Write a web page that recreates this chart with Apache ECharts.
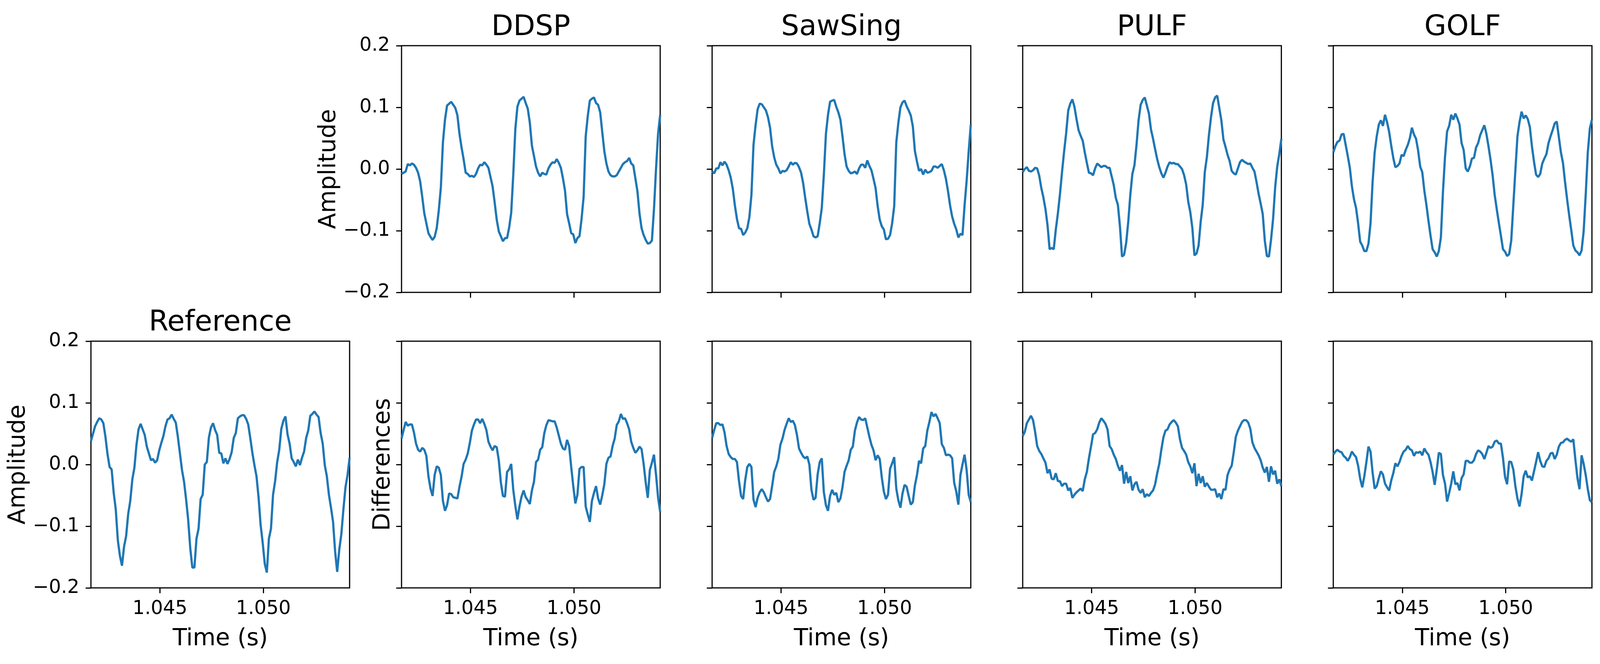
<!DOCTYPE html>
<html>
<head>
<meta charset="utf-8">
<title>Reference vs. models</title>
<script src="https://cdn.jsdelivr.net/npm/echarts@6/dist/echarts.min.js"></script>
<style>
  html, body { margin: 0; padding: 0; background: #fff; overflow: hidden; }
  #chart { width: 100vw; height: 100vh; }
</style>
</head>
<body>
<div id="chart"></div>
<script>
// time window shown (s) and spacing of the readings below
const tStart = 1.041667
const tEnd = 1.054167
const tStep = 0.0001
const xTickValues = [1.045, 1.05]

// waveforms, one value per 0.1 ms
const reference = [
  0.038, 0.050, 0.062, 0.069, 0.075, 0.073, 0.067, 0.045, 0.017, -0.004,
  -0.008, -0.046, -0.073, -0.123, -0.148, -0.164, -0.133, -0.116, -0.080, -0.059,
  -0.024, -0.005, 0.032, 0.057, 0.066, 0.057, 0.048, 0.029, 0.018, 0.007,
  0.009, 0.003, 0.007, 0.023, 0.035, 0.046, 0.062, 0.073, 0.075, 0.081,
  0.074, 0.068, 0.045, 0.018, -0.009, -0.028, -0.057, -0.090, -0.136, -0.167,
  -0.167, -0.120, -0.104, -0.056, -0.049, 0.000, 0.004, 0.044, 0.060, 0.067,
  0.056, 0.048, 0.019, 0.018, 0.002, 0.010, 0.001, 0.009, 0.020, 0.043,
  0.051, 0.075, 0.078, 0.080, 0.080, 0.074, 0.065, 0.043, 0.019, -0.001,
  -0.019, -0.053, -0.098, -0.127, -0.161, -0.175, -0.120, -0.104, -0.049, -0.027,
  0.004, 0.024, 0.058, 0.071, 0.078, 0.049, 0.034, 0.010, 0.004, -0.003,
  0.008, -0.001, 0.011, 0.021, 0.043, 0.055, 0.079, 0.082, 0.086, 0.081,
  0.077, 0.051, 0.034, -0.001, -0.019, -0.049, -0.070, -0.093, -0.141, -0.174,
  -0.138, -0.113, -0.073, -0.037, -0.017, 0.011,
]
const ddsp = [
  -0.008, -0.006, -0.004, 0.008, 0.006, 0.009, 0.007, 0.002, -0.006, -0.020,
  -0.045, -0.072, -0.088, -0.104, -0.110, -0.115, -0.110, -0.096, -0.067, -0.030,
  0.043, 0.080, 0.103, 0.106, 0.109, 0.104, 0.099, 0.087, 0.057, 0.035,
  0.016, -0.006, -0.008, -0.012, -0.011, -0.013, -0.008, 0.001, 0.007, 0.006,
  0.011, 0.007, 0.002, -0.013, -0.028, -0.054, -0.082, -0.101, -0.109, -0.117,
  -0.112, -0.112, -0.095, -0.071, -0.009, 0.065, 0.101, 0.111, 0.114, 0.117,
  0.107, 0.098, 0.075, 0.038, 0.021, 0.004, -0.006, -0.012, -0.006, -0.008,
  -0.009, 0.001, 0.007, 0.011, 0.010, 0.016, 0.010, 0.002, -0.015, -0.035,
  -0.073, -0.088, -0.104, -0.106, -0.120, -0.112, -0.109, -0.081, -0.045, 0.053,
  0.086, 0.111, 0.114, 0.116, 0.107, 0.104, 0.092, 0.060, 0.029, 0.009,
  -0.004, -0.010, -0.012, -0.012, -0.010, -0.004, 0.002, 0.008, 0.011, 0.013,
  0.018, 0.009, 0.006, -0.015, -0.036, -0.072, -0.096, -0.107, -0.115, -0.121,
  -0.120, -0.116, -0.065, 0.001, 0.058, 0.088,
]
const sawsing = [
  -0.004, -0.007, 0.001, 0.001, 0.011, 0.006, 0.012, 0.007, -0.002, -0.014,
  -0.032, -0.059, -0.081, -0.096, -0.097, -0.107, -0.103, -0.096, -0.078, -0.042,
  0.039, 0.071, 0.097, 0.106, 0.105, 0.100, 0.095, 0.084, 0.067, 0.037,
  0.019, 0.007, 0.001, -0.007, -0.003, -0.004, -0.002, 0.004, 0.011, 0.007,
  0.010, 0.009, 0.003, -0.006, -0.023, -0.047, -0.069, -0.089, -0.098, -0.109,
  -0.111, -0.109, -0.088, -0.063, -0.009, 0.057, 0.088, 0.109, 0.111, 0.112,
  0.101, 0.092, 0.080, 0.053, 0.024, 0.004, -0.003, -0.007, -0.006, -0.004,
  -0.008, 0.001, 0.007, 0.007, 0.002, 0.014, 0.005, -0.002, -0.016, -0.031,
  -0.060, -0.082, -0.093, -0.098, -0.114, -0.113, -0.107, -0.088, -0.060, 0.043,
  0.075, 0.100, 0.108, 0.111, 0.102, 0.095, 0.087, 0.069, 0.029, 0.012,
  -0.003, 0.000, -0.009, -0.001, -0.006, -0.005, -0.003, 0.004, 0.004, 0.002,
  0.005, 0.008, -0.002, -0.016, -0.036, -0.059, -0.077, -0.089, -0.098, -0.111,
  -0.105, -0.107, -0.059, -0.019, 0.029, 0.072,
]
const pulf = [
  -0.005, 0.000, 0.003, -0.003, -0.004, -0.002, 0.002, 0.001, -0.011, -0.031,
  -0.046, -0.065, -0.091, -0.130, -0.128, -0.130, -0.098, -0.072, -0.041, -0.005,
  0.028, 0.058, 0.095, 0.106, 0.113, 0.101, 0.081, 0.063, 0.054, 0.046,
  0.027, 0.010, -0.006, -0.007, -0.010, 0.001, 0.009, 0.006, 0.003, 0.005,
  0.005, 0.002, 0.002, -0.012, -0.026, -0.047, -0.058, -0.093, -0.142, -0.139,
  -0.120, -0.086, -0.042, -0.008, 0.006, 0.039, 0.079, 0.104, 0.112, 0.116,
  0.103, 0.090, 0.064, 0.049, 0.032, 0.016, 0.003, -0.007, -0.014, -0.006,
  0.004, 0.011, 0.009, 0.010, 0.008, 0.008, 0.004, 0.000, -0.010, -0.025,
  -0.053, -0.070, -0.096, -0.140, -0.137, -0.124, -0.086, -0.058, -0.005, 0.019,
  0.055, 0.084, 0.107, 0.116, 0.119, 0.099, 0.079, 0.048, 0.036, 0.023,
  0.013, -0.003, -0.007, -0.009, 0.001, 0.011, 0.015, 0.012, 0.010, 0.008,
  0.009, 0.002, -0.004, -0.021, -0.040, -0.056, -0.073, -0.116, -0.141, -0.142,
  -0.115, -0.081, -0.030, 0.004, 0.024, 0.049,
]
const golf = [
  0.027, 0.037, 0.044, 0.046, 0.056, 0.057, 0.039, 0.021, 0.002, -0.028,
  -0.049, -0.063, -0.088, -0.118, -0.124, -0.133, -0.133, -0.121, -0.088, -0.021,
  0.027, 0.053, 0.072, 0.079, 0.070, 0.088, 0.076, 0.060, 0.038, 0.018,
  0.003, 0.005, 0.009, 0.023, 0.021, 0.031, 0.039, 0.050, 0.067, 0.056,
  0.049, 0.030, 0.004, -0.005, -0.035, -0.058, -0.084, -0.108, -0.130, -0.135,
  -0.142, -0.133, -0.111, -0.037, 0.020, 0.061, 0.070, 0.088, 0.080, 0.090,
  0.082, 0.072, 0.042, 0.031, 0.001, -0.004, 0.004, 0.017, 0.018, 0.035,
  0.042, 0.055, 0.063, 0.071, 0.057, 0.037, 0.015, -0.010, -0.042, -0.065,
  -0.087, -0.108, -0.130, -0.134, -0.141, -0.138, -0.116, -0.059, -0.002, 0.053,
  0.076, 0.093, 0.082, 0.087, 0.081, 0.068, 0.037, 0.012, -0.009, -0.013,
  -0.008, 0.009, 0.017, 0.024, 0.042, 0.053, 0.063, 0.074, 0.077, 0.052,
  0.027, 0.010, -0.021, -0.049, -0.075, -0.099, -0.124, -0.132, -0.135, -0.140,
  -0.132, -0.101, -0.041, 0.027, 0.066, 0.080,
]

// differences against the reference
const ddspDiff = [
  0.042, 0.056, 0.069, 0.063, 0.065, 0.065, 0.052, 0.034, 0.024, 0.021,
  0.027, 0.024, 0.014, -0.019, -0.039, -0.051, -0.017, -0.003, -0.005, -0.017,
  -0.059, -0.075, -0.066, -0.047, -0.048, -0.053, -0.054, -0.055, -0.036, -0.020,
  0.001, 0.008, 0.018, 0.035, 0.055, 0.065, 0.073, 0.073, 0.067, 0.074,
  0.066, 0.056, 0.037, 0.029, 0.023, 0.030, 0.028, 0.007, -0.029, -0.051,
  -0.052, -0.012, -0.008, 0.001, -0.041, -0.067, -0.089, -0.068, -0.052, -0.042,
  -0.053, -0.058, -0.064, -0.042, -0.028, 0.004, 0.008, 0.024, 0.028, 0.051,
  0.064, 0.072, 0.071, 0.070, 0.070, 0.060, 0.047, 0.034, 0.026, 0.024,
  0.040, 0.030, -0.004, -0.035, -0.063, -0.049, -0.007, -0.004, -0.004, -0.068,
  -0.081, -0.093, -0.059, -0.046, -0.035, -0.055, -0.065, -0.050, -0.032, 0.001,
  0.011, 0.013, 0.030, 0.042, 0.064, 0.070, 0.082, 0.074, 0.075, 0.067,
  0.057, 0.037, 0.027, 0.019, 0.023, 0.029, 0.025, 0.001, -0.029, -0.054,
  -0.009, 0.003, 0.016, -0.017, -0.054, -0.077,
]
const sawsingDiff = [
  0.043, 0.056, 0.067, 0.067, 0.064, 0.065, 0.052, 0.030, 0.017, 0.012,
  0.009, 0.009, 0.004, -0.027, -0.051, -0.056, -0.025, -0.004, 0.001, -0.004,
  -0.057, -0.069, -0.054, -0.045, -0.040, -0.045, -0.053, -0.060, -0.056, -0.035,
  -0.012, -0.003, 0.009, 0.032, 0.042, 0.056, 0.066, 0.075, 0.069, 0.071,
  0.064, 0.048, 0.026, 0.019, 0.013, 0.010, 0.013, 0.000, -0.041, -0.057,
  -0.054, -0.016, 0.004, 0.010, -0.045, -0.066, -0.075, -0.051, -0.041, -0.049,
  -0.046, -0.061, -0.055, -0.037, -0.012, -0.002, 0.007, 0.024, 0.029, 0.055,
  0.068, 0.077, 0.073, 0.072, 0.075, 0.060, 0.045, 0.032, 0.023, 0.007,
  0.015, 0.009, -0.021, -0.044, -0.056, -0.049, -0.007, 0.002, 0.012, -0.039,
  -0.058, -0.070, -0.047, -0.033, -0.036, -0.051, -0.065, -0.061, -0.034, -0.017,
  0.006, 0.002, 0.026, 0.030, 0.055, 0.069, 0.085, 0.078, 0.082, 0.075,
  0.067, 0.033, 0.027, 0.015, 0.016, 0.015, 0.010, -0.030, -0.044, -0.065,
  -0.017, 0.000, 0.016, -0.009, -0.049, -0.061,
]
const pulfDiff = [
  0.046, 0.053, 0.067, 0.073, 0.079, 0.072, 0.053, 0.030, 0.022, 0.017,
  0.010, 0.003, -0.014, -0.008, -0.023, -0.024, -0.014, -0.027, -0.027, -0.035,
  -0.031, -0.031, -0.042, -0.038, -0.054, -0.049, -0.045, -0.042, -0.039, -0.043,
  -0.024, -0.012, 0.010, 0.029, 0.049, 0.051, 0.057, 0.068, 0.075, 0.071,
  0.066, 0.057, 0.030, 0.025, 0.016, 0.009, -0.002, -0.010, -0.001, -0.031,
  -0.012, -0.030, -0.019, -0.042, -0.032, -0.028, -0.041, -0.046, -0.040, -0.053,
  -0.048, -0.051, -0.046, -0.042, -0.032, -0.014, 0.001, 0.024, 0.044, 0.055,
  0.057, 0.065, 0.069, 0.072, 0.068, 0.062, 0.041, 0.027, 0.022, 0.016,
  0.004, -0.003, -0.014, 0.002, -0.035, -0.015, -0.030, -0.019, -0.036, -0.030,
  -0.036, -0.041, -0.041, -0.040, -0.053, -0.047, -0.056, -0.040, -0.041, -0.017,
  -0.008, -0.002, 0.020, 0.045, 0.055, 0.062, 0.069, 0.072, 0.072, 0.068,
  0.058, 0.036, 0.027, 0.021, 0.015, 0.007, -0.005, -0.013, -0.004, -0.028,
  -0.003, -0.016, -0.010, -0.031, -0.024, -0.035,
]
const golfDiff = [
  0.016, 0.021, 0.024, 0.021, 0.020, 0.014, 0.011, 0.006, 0.012, 0.021,
  0.016, 0.012, -0.002, -0.023, -0.037, -0.019, 0.004, 0.029, 0.021, -0.013,
  -0.039, -0.035, -0.022, -0.011, -0.016, -0.031, -0.037, -0.042, -0.026, -0.014,
  0.002, -0.003, 0.004, 0.014, 0.021, 0.024, 0.030, 0.025, 0.023, 0.014,
  0.020, 0.019, 0.021, 0.015, 0.026, 0.020, 0.016, 0.004, -0.012, -0.033,
  -0.009, 0.019, 0.017, -0.017, -0.031, -0.060, -0.046, -0.031, -0.011, -0.032,
  -0.030, -0.042, -0.022, -0.016, 0.006, 0.006, 0.003, 0.003, 0.007, 0.017,
  0.023, 0.021, 0.017, 0.009, 0.019, 0.030, 0.027, 0.029, 0.037, 0.039,
  0.034, 0.034, 0.011, -0.020, -0.032, 0.005, 0.004, -0.008, -0.035, -0.055,
  -0.068, -0.048, -0.019, -0.010, -0.021, -0.019, -0.026, -0.011, 0.004, 0.020,
  0.006, -0.003, -0.004, 0.006, 0.010, 0.018, 0.019, 0.009, 0.016, 0.029,
  0.035, 0.036, 0.040, 0.042, 0.039, 0.037, 0.041, 0.008, -0.022, -0.040,
  0.015, 0.001, -0.017, -0.040, -0.058, -0.061,
]

const FONT = 'DejaVu Sans'
const BLUE = '#1f77b4'

// layout is measured on the 4961 x 1701 figure, then fitted to the viewport
const FIG_W = 4961
const FIG_H = 1701
const SX = window.innerWidth / FIG_W
const SY = window.innerHeight / FIG_H
const SF = Math.sqrt(SX * SY) // fonts and strokes
const fx = (v) => v * SX
const fy = (v) => v * SY
const fs = (v) => v * SF

const colLeft = [282, 1245, 2208, 3171, 4134]
const rowTop = [117, 874]
const panelW = 802
const panelH = 632

const times = reference.map((v, i) => +(tStart + i * tStep).toFixed(6))

const panels = [
  { title: 'Reference', values: reference, row: 1, col: 0, yLabels: true, xLabels: true, yName: 'Amplitude' },
  { title: 'DDSP', values: ddsp, row: 0, col: 1, yLabels: true, xLabels: false, yName: 'Amplitude' },
  { title: 'SawSing', values: sawsing, row: 0, col: 2 },
  { title: 'PULF', values: pulf, row: 0, col: 3 },
  { title: 'GOLF', values: golf, row: 0, col: 4 },
  { values: ddspDiff, row: 1, col: 1, xLabels: true, yName: 'Differences' },
  { values: sawsingDiff, row: 1, col: 2, xLabels: true },
  { values: pulfDiff, row: 1, col: 3, xLabels: true },
  { values: golfDiff, row: 1, col: 4, xLabels: true },
]

const tickStyle = { show: true, inside: false, length: fs(15), lineStyle: { color: '#000', width: fs(3.3) } }
const fmtY = (v) => (v < -1e-9 ? '\u2212' : '') + Math.abs(v).toFixed(1)

// gap between the axis and the y name: centre "Amplitude" where the figure has it
const ampGap = fx(282 - 57) - fs(66) / 2
const diffGap = fs(18)

const grid = []
const xAxis = []
const yAxis = []
const series = []
const graphic = []

panels.forEach((p, i) => {
  const left = colLeft[p.col]
  const top = rowTop[p.row]
  grid.push({
    left: fx(left), top: fy(top), width: fx(panelW), height: fy(panelH),
    show: true, borderColor: '#000', borderWidth: fs(3.3), backgroundColor: 'transparent',
  })
  xAxis.push({
    type: 'value', gridIndex: i, min: tStart, max: tEnd,
    axisLine: { show: false, onZero: false },
    splitLine: { show: false },
    axisTick: Object.assign({ customValues: xTickValues }, tickStyle),
    axisLabel: {
      show: !!p.xLabels, customValues: xTickValues, margin: fy(30),
      fontSize: fs(54), fontFamily: FONT, color: '#000',
      formatter: (v) => v.toFixed(3),
    },
    name: p.xLabels ? 'Time (s)' : '',
    nameLocation: 'middle', nameGap: fy(101),
    nameTextStyle: { fontSize: fs(66), fontFamily: FONT, color: '#000' },
  })
  yAxis.push({
    type: 'value', gridIndex: i, min: -0.2, max: 0.2, interval: 0.1,
    axisLine: { show: false, onZero: false },
    splitLine: { show: false },
    axisTick: tickStyle,
    axisLabel: {
      show: !!p.yLabels, margin: fx(36),
      fontSize: fs(54), fontFamily: FONT, color: '#000', formatter: fmtY,
    },
    name: p.yName || '',
    nameLocation: 'middle', nameGap: p.yName === 'Differences' ? diffGap : ampGap,
    nameTextStyle: { fontSize: fs(66), fontFamily: FONT, color: '#000' },
  })
  series.push({
    type: 'line', xAxisIndex: i, yAxisIndex: i,
    data: times.map((t, k) => [t, p.values[k]]),
    showSymbol: false, symbol: 'none',
    lineStyle: { color: BLUE, width: fs(6.25) },
    itemStyle: { color: BLUE },
    clip: true,
  })
  if (p.title) {
    graphic.push({
      type: 'text', x: fx(left + panelW / 2), y: fy(top - 46),
      style: {
        text: p.title, fill: '#000', fontSize: fs(80), fontFamily: FONT,
        textAlign: 'center', textVerticalAlign: 'middle',
      },
    })
  }
})

const chart = echarts.init(document.getElementById('chart'), null, { renderer: 'canvas' })
chart.setOption({
  animation: false,
  backgroundColor: '#fff',
  grid, xAxis, yAxis, series, graphic,
})
</script>
</body>
</html>
